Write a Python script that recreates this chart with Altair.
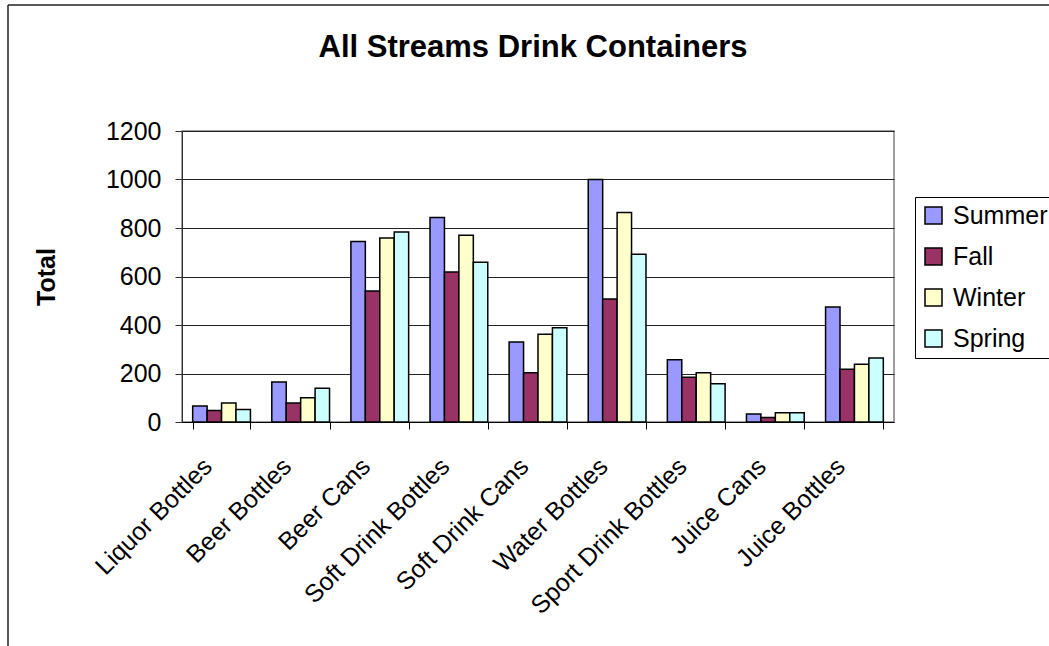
import altair as alt
import pandas as pd

# Drink container counts by season, all streams combined
categories = [
    "Liquor Bottles", "Beer Bottles", "Beer Cans", "Soft Drink Bottles",
    "Soft Drink Cans", "Water Bottles", "Sport Drink Bottles", "Juice Cans",
    "Juice Bottles",
]
seasons = ["Summer", "Fall", "Winter", "Spring"]
summer = [66, 165, 744, 843, 330, 1000, 257, 33, 474]
fall = [47, 78, 540, 619, 203, 507, 185, 19, 218]
winter = [78, 100, 759, 770, 362, 864, 203, 38, 238]
spring = [52, 139, 784, 659, 389, 692, 158, 38, 264]
season_colors = ["#9999FF", "#993366", "#FFFFCC", "#CCFFFF"]
y_ticks = [0, 200, 400, 600, 800, 1000, 1200]

rows = []
for season, values in zip(seasons, [summer, fall, winter, spring]):
    for cat, v in zip(categories, values):
        rows.append({"Container": cat, "Season": season, "Total": v})
df = pd.DataFrame(rows)

FONT = "Liberation Sans"
W, H = 712, 291
LEFT, TOP = 182, 131

bars = alt.Chart(df).mark_bar(stroke="black", strokeWidth=1.5).encode(
    x=alt.X(
        "Container:N",
        sort=categories,
        scale=alt.Scale(paddingInner=0.27, paddingOuter=0.135),
        axis=alt.Axis(
            title=None,
            labelAngle=-45,
            labelAlign="right",
            labelBaseline="middle",
            labelFont=FONT,
            labelFontSize=25,
            labelColor="black",
            labelPadding=33,
            labelOffset=-14,
            labelLimit=0,
            tickBand="extent",
            tickSize=7,
            tickColor="black",
            domainColor="black",
            labelOverlap=False,
        ),
    ),
    xOffset=alt.XOffset("Season:N", sort=seasons),
    y=alt.Y(
        "Total:Q",
        scale=alt.Scale(domain=[0, 1200], nice=False),
        axis=alt.Axis(
            values=y_ticks,
            format="d",
            title="Total",
            titleFont=FONT,
            titleFontSize=25,
            titleFontWeight="bold",
            titleColor="black",
            titlePadding=46,
            labelFont=FONT,
            labelFontSize=25,
            labelColor="black",
            labelPadding=14,
            tickSize=7,
            tickColor="#333333",
            domainColor="#333333",
            gridColor="#222222",
            grid=True,
        ),
    ),
    color=alt.Color(
        "Season:N",
        sort=seasons,
        scale=alt.Scale(domain=seasons, range=season_colors),
        legend=alt.Legend(
            title=None,
            orient="none",
            legendX=733,
            legendY=66,
            symbolType="square",
            symbolSize=289,
            symbolStrokeColor="black",
            symbolStrokeWidth=1.5,
            labelFont=FONT,
            labelFontSize=25,
            labelColor="black",
            labelOffset=7,
            labelLimit=0,
            rowPadding=15,
            padding=6,
            strokeColor="black",
        ),
    ),
)

one = alt.Data(values=[{}])

# chart title
title = alt.Chart(one).mark_text(
    text="All Streams Drink Containers",
    font=FONT,
    fontSize=31,
    fontWeight="bold",
    color="black",
    align="center",
    baseline="alphabetic",
).encode(x=alt.value(533 - LEFT), y=alt.value(57 - TOP))

# outer frame: top and left edges
frame_top = alt.Chart(one).mark_rule(color="#222222", strokeWidth=1.5).encode(
    x=alt.value(8 - LEFT), x2=alt.value(1049 - LEFT), y=alt.value(5 - TOP)
)
frame_left = alt.Chart(one).mark_rule(color="#222222", strokeWidth=1.5).encode(
    x=alt.value(8 - LEFT), y=alt.value(5 - TOP), y2=alt.value(646 - TOP)
)

chart = alt.layer(bars, title, frame_top, frame_left).properties(
    width=W,
    height=H,
    autosize=alt.AutoSizeParams(type="none"),
    padding={"left": LEFT, "top": TOP, "right": 1049 - LEFT - W, "bottom": 646 - TOP - H},
    background="white",
).configure_view(stroke="#808080", strokeWidth=1.5)

chart.save("out.html", embed_options={"renderer": "svg", "actions": False})
